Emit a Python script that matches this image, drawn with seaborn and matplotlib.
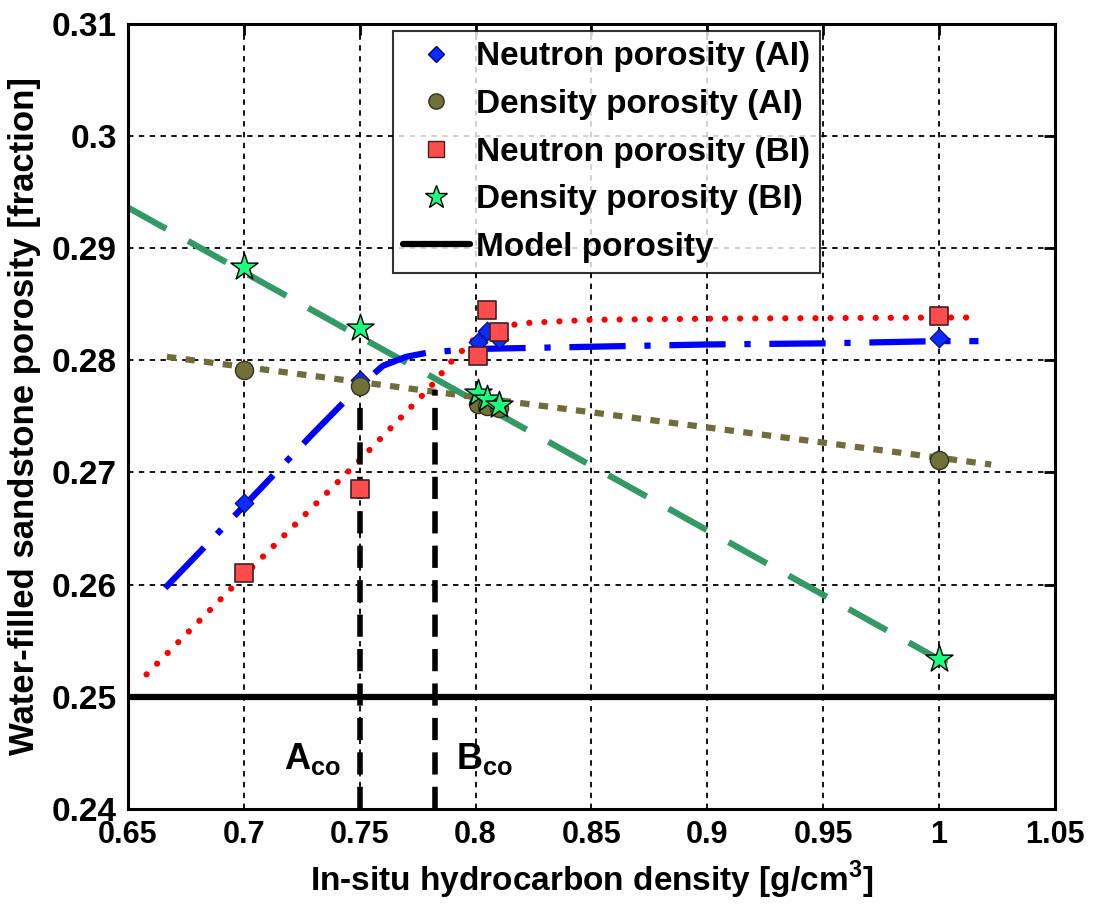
import numpy as np
import pandas as pd
import matplotlib
matplotlib.use('Agg')
import matplotlib.pyplot as plt
import seaborn as sns
from matplotlib.lines import Line2D

# measured points
x_nai = [0.70, 0.75, 0.801, 0.805, 0.81, 1.00]
y_nai = [0.2673, 0.2782, 0.2816, 0.2826, 0.2819, 0.2820]
x_dai = [0.70, 0.75, 0.801, 0.805, 0.81, 1.00]
y_dai = [0.2791, 0.2777, 0.2761, 0.2759, 0.2757, 0.2711]
x_nbi = [0.70, 0.75, 0.801, 0.805, 0.81, 1.00]
y_nbi = [0.2610, 0.2685, 0.2804, 0.2845, 0.2825, 0.2839]
x_dbi = [0.70, 0.75, 0.801, 0.805, 0.81, 1.00]
y_dbi = [0.2883, 0.2829, 0.2771, 0.2765, 0.2760, 0.2534]

# fitted curves
fit_nai_x = [0.666, 0.70, 0.73, 0.75, 0.755, 0.76, 0.77, 0.78, 0.80, 0.85, 0.90, 0.95, 1.00, 1.017]
fit_nai_y = [0.2597, 0.2670, 0.2735, 0.2777, 0.2786, 0.2795, 0.2803, 0.2807, 0.2810, 0.2812, 0.2814, 0.2815, 0.2817, 0.2817]
fit_nbi_x = [0.658, 0.70, 0.75, 0.78, 0.79, 0.80, 0.81, 0.82, 0.85, 0.90, 1.00, 1.015]
fit_nbi_y = [0.2520, 0.2608, 0.2711, 0.2775, 0.2800, 0.2820, 0.2829, 0.2833, 0.2836, 0.2837, 0.2838, 0.2838]
fit_dai_x = [0.6668, 1.0225]
fit_dai_y = [0.2803, 0.2707]
fit_dbi_x = [0.65, 1.0125]
fit_dbi_y = [0.2936, 0.2519]

model_x = [0.65, 1.05]
model_y = [0.25, 0.25]

cutoff_x = [0.75, 0.7825]
cutoff_top = [0.2780, 0.2773]

sns.set_style('white')
plt.rcParams['font.family'] = ['Liberation Sans', 'DejaVu Sans']
plt.rcParams['font.weight'] = 'bold'
plt.rcParams['text.color'] = 'black'
plt.rcParams['axes.labelcolor'] = 'black'
plt.rcParams['xtick.color'] = 'black'
plt.rcParams['ytick.color'] = 'black'
plt.rcParams['mathtext.fontset'] = 'custom'
plt.rcParams['mathtext.rm'] = 'Liberation Sans:bold'
plt.rcParams['mathtext.bf'] = 'Liberation Sans:bold'

fig = plt.figure(figsize=(10.94, 9.05), dpi=100)
ax = fig.add_axes([0.117, 0.106, 0.8473, 0.868])

# grid
ax.grid(True, color='black', linestyle=(0, (3, 3)), linewidth=1.3)
ax.set_axisbelow(True)

# model porosity
sns.lineplot(x=model_x, y=model_y, color='black', lw=4.5, ax=ax)

# cutoff lines
for cx, ct in zip(cutoff_x, cutoff_top):
    ax.plot([cx, cx], [0.24, ct], color='black', lw=4, linestyle=(0, (4, 2.2)), zorder=3)

# fitted curves
sns.lineplot(x=fit_dbi_x, y=fit_dbi_y, color='#339966', lw=4.5, ax=ax)
ax.lines[-1].set_dashes([7, 4])
sns.lineplot(x=fit_dai_x, y=fit_dai_y, color='#6e6e3c', lw=4.5, ax=ax)
ax.lines[-1].set_dashes([1.5, 1.5])
sns.lineplot(x=fit_nai_x, y=fit_nai_y, color='#0000ff', lw=4.5, ax=ax, sort=False)
ax.lines[-1].set_dashes([9, 3, 1, 3])
sns.lineplot(x=fit_nbi_x, y=fit_nbi_y, color='#ff0000', lw=4.5, ax=ax, sort=False)
ax.lines[-1].set_dashes([0.01, 2.4])
ax.lines[-1].set_dash_capstyle('round')

# data points
sns.scatterplot(x=x_nai, y=y_nai, marker='D', s=90, color='#0a2cff', edgecolor='#000080', linewidth=0.8, ax=ax, zorder=5)
sns.scatterplot(x=x_dai, y=y_dai, marker='o', s=170, color='#707038', edgecolor='#333320', linewidth=1.0, ax=ax, zorder=5)
sns.scatterplot(x=x_nbi, y=y_nbi, marker='s', s=170, color='#ff4d4d', edgecolor='#402020', linewidth=1.2, ax=ax, zorder=6)
sns.scatterplot(x=x_dbi, y=y_dbi, marker='*', s=420, color='#1aff80', edgecolor='black', linewidth=1.0, ax=ax, zorder=6)

ax.text(cutoff_x[0] - 0.008, 0.2445, r'$\mathbf{A}_{\mathbf{co}}$', ha='right', va='center', fontsize=26)
ax.text(cutoff_x[1] + 0.009, 0.2445, r'$\mathbf{B}_{\mathbf{co}}$', ha='left', va='center', fontsize=26)

ax.set_xlim(0.65, 1.05)
ax.set_ylim(0.24, 0.31)
ax.set_xticks(np.arange(0.65, 1.051, 0.05))
ax.set_xticklabels(['0.65', '0.7', '0.75', '0.8', '0.85', '0.9', '0.95', '1', '1.05'])
ax.set_yticks(np.arange(0.24, 0.311, 0.01))
ax.set_yticklabels(['0.24', '0.25', '0.26', '0.27', '0.28', '0.29', '0.3', '0.31'])
ax.tick_params(axis='both', direction='in', length=8, width=2, top=True, right=True, pad=8)
ax.tick_params(axis='y', labelsize=24)
ax.tick_params(axis='x', labelsize=22)
for t in ax.get_xticklabels() + ax.get_yticklabels():
    t.set_fontweight('bold')
for sp in ax.spines.values():
    sp.set_linewidth(2.2)
    sp.set_color('black')

ax.set_xlabel('In-situ hydrocarbon density [g/cm$^{3}$]', fontsize=24, fontweight='bold', labelpad=6)
ax.set_ylabel('Water-filled sandstone porosity [fraction]', fontsize=25, fontweight='bold', labelpad=8)

handles = [
    Line2D([], [], marker='D', ls='none', color='#0a2cff', markeredgecolor='#000080', markersize=8),
    Line2D([], [], marker='o', ls='none', color='#707038', markeredgecolor='#333320', markersize=11),
    Line2D([], [], marker='s', ls='none', color='#ff4d4d', markeredgecolor='#402020', markersize=11),
    Line2D([], [], marker='*', ls='none', color='#1aff80', markeredgecolor='black', markersize=17),
    Line2D([], [], color='black', lw=4.5),
]
labels = ['Neutron porosity (AI)', 'Density porosity (AI)', 'Neutron porosity (BI)',
          'Density porosity (BI)', 'Model porosity']
leg = ax.legend(handles, labels, loc='upper left', bbox_to_anchor=(0.286, 0.99),
                fontsize=24, frameon=True, fancybox=False, edgecolor='black',
                handlelength=2.0, handletextpad=0.2, labelspacing=0.5, borderpad=0.3,
                borderaxespad=0)
leg.get_frame().set_linewidth(1.5)
for t in leg.get_texts():
    t.set_fontweight('bold')

fig.savefig('out.png', dpi=100)
